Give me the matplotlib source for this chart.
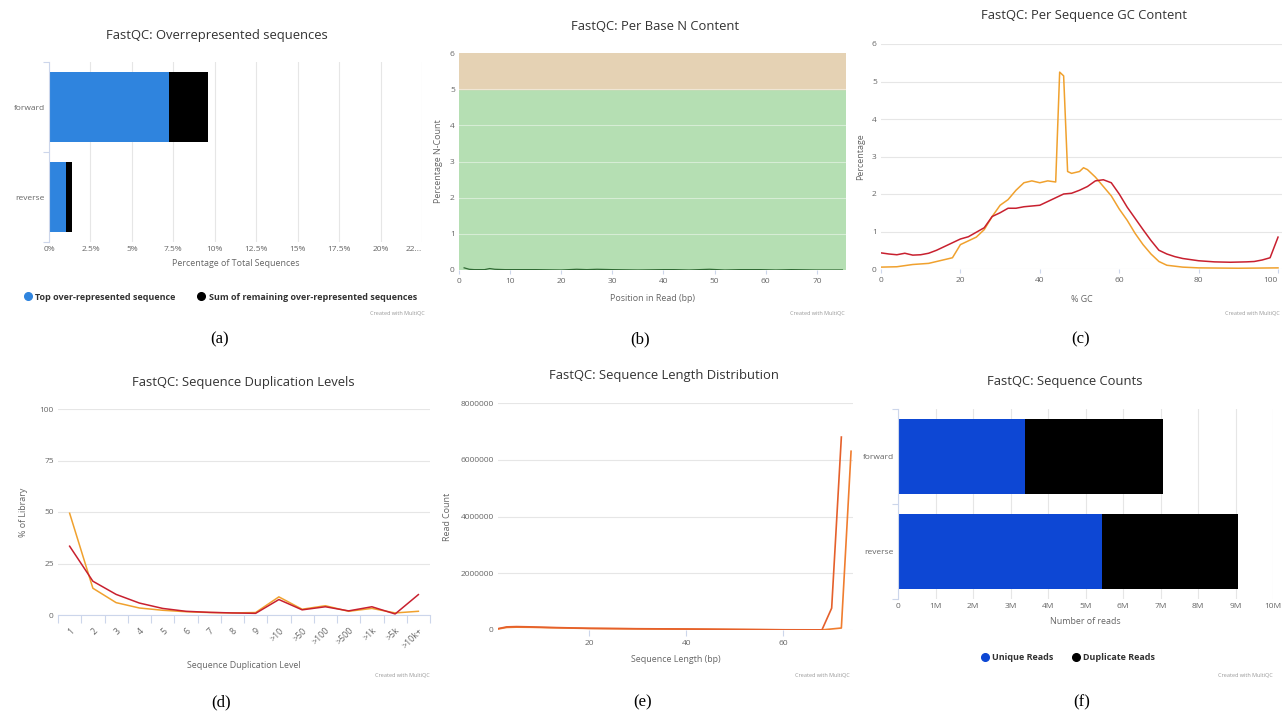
import numpy as np
import matplotlib
matplotlib.use('Agg')
import matplotlib.pyplot as plt
from matplotlib.lines import Line2D
from matplotlib.ticker import FixedLocator

plt.rcParams['font.family'] = ['Open Sans', 'DejaVu Sans']

W, H = 1282, 712

# (a) overrepresented sequences, % of total
over_samples = ['forward', 'reverse']
over_top = [7.23, 1.0]
over_rest = [2.35, 0.37]

# (b) per base N content
n_pos = [1, 2, 3, 5, 6, 7, 9, 12, 15, 20, 23, 25, 27, 30, 35, 40, 42, 45, 49, 52, 55, 59, 62, 65, 70, 75]
n_pct = [0.06, 0.02, 0.01, 0.01, 0.04, 0.02, 0.01, 0.01, 0.01, 0.0, 0.02, 0.01, 0.02, 0.01, 0.0, 0.01,
         0.01, 0.0, 0.02, 0.0, 0.01, 0.01, 0.0, 0.01, 0.0, 0.0]

# (c) per sequence GC content
gc_red_x = [0, 2, 4, 6, 8, 10, 12, 14, 16, 18, 20, 22, 24, 26, 28, 30, 32, 34, 36, 38, 40, 42, 44, 46,
            48, 50, 52, 54, 56, 58, 60, 62, 64, 66, 68, 70, 72, 74, 76, 78, 80, 84, 88, 92, 94, 96, 98, 100]
gc_red_y = [0.43, 0.4, 0.38, 0.42, 0.37, 0.38, 0.42, 0.5, 0.6, 0.7, 0.8, 0.86, 0.98, 1.1, 1.4, 1.5, 1.62,
            1.62, 1.66, 1.68, 1.7, 1.8, 1.9, 2.0, 2.02, 2.1, 2.2, 2.35, 2.38, 2.3, 2.0, 1.65, 1.35, 1.05,
            0.76, 0.5, 0.4, 0.33, 0.28, 0.25, 0.22, 0.19, 0.18, 0.19, 0.2, 0.24, 0.3, 0.85]
gc_orange_x = [0, 4, 8, 12, 16, 18, 20, 22, 24, 26, 28, 30, 32, 34, 36, 38, 40, 42, 44, 45, 46, 47, 48,
               50, 51, 52, 54, 56, 58, 60, 62, 64, 66, 68, 70, 72, 76, 80, 90, 100]
gc_orange_y = [0.05, 0.06, 0.12, 0.15, 0.25, 0.3, 0.65, 0.75, 0.85, 1.05, 1.4, 1.7, 1.85, 2.1, 2.3, 2.35,
               2.3, 2.35, 2.32, 5.25, 5.15, 2.6, 2.55, 2.6, 2.7, 2.65, 2.45, 2.2, 1.95, 1.6, 1.3, 0.95,
               0.65, 0.4, 0.2, 0.1, 0.05, 0.03, 0.02, 0.03]

# (d) sequence duplication levels
dup_levels = ['1', '2', '3', '4', '5', '6', '7', '8', '9', '>10', '>50', '>100', '>500', '>1k', '>5k', '>10k+']
dup_red = [33.4, 16.4, 10.0, 5.8, 3.2, 1.8, 1.3, 1.0, 0.8, 7.5, 2.5, 4.0, 2.0, 4.0, 0.5, 9.9]
dup_orange = [49.4, 13.0, 6.0, 3.4, 2.3, 1.6, 1.2, 1.0, 1.2, 8.8, 2.8, 4.5, 1.8, 3.2, 1.0, 1.8]

# (e) sequence length distribution
len_a_x = [1, 3, 5, 8, 12, 20, 30, 40, 50, 60, 68, 70, 72]
len_a_y = [40000, 110000, 120000, 110000, 90000, 60000, 45000, 35000, 20000, 8000, 5000, 770000, 6800000]
len_b_x = [1, 3, 5, 8, 12, 20, 30, 40, 50, 60, 68, 72, 74]
len_b_y = [30000, 90000, 100000, 95000, 80000, 55000, 40000, 30000, 18000, 6000, 3000, 70000, 6300000]

# (f) sequence counts
count_samples = ['forward', 'reverse']
unique_reads = [3.38e6, 5.45e6]
duplicate_reads = [3.69e6, 3.62e6]

TITLE = '#333333'
LABEL = '#666666'
GRID = '#e6e6e6'
AXIS = '#ccd6eb'
RED = '#c8202f'
ORANGE = '#f0a12e'
TICK = 6
ALAB = 6.4


def box(x0, y0, x1, y1):
    return [x0 / W, 1 - y1 / H, (x1 - x0) / W, (y1 - y0) / H]


def put(x, y, s, **kw):
    fig.text(x / W, 1 - y / H, s, **kw)


def base(ax):
    for sp in ax.spines.values():
        sp.set_visible(False)
    ax.tick_params(labelsize=TICK, labelcolor=LABEL, length=0, pad=3)
    ax.set_axisbelow(True)


def bracket(ax, n):
    # category brackets on the left side of the bar charts
    ax.spines['left'].set_visible(True)
    ax.spines['left'].set_color(AXIS)
    ax.spines['left'].set_linewidth(0.8)
    ax.yaxis.set_minor_locator(FixedLocator(np.arange(n + 1) - 0.5))
    ax.tick_params(axis='y', which='minor', length=4, color=AXIS, width=0.8)


fig = plt.figure(figsize=(W / 100, H / 100), dpi=100)

# ---- (a)
ax = fig.add_axes(box(49, 62, 422, 242))
base(ax)
yy = np.arange(len(over_samples))
ax.barh(yy, over_top, height=0.77, color='#2f84de')
ax.barh(yy, over_rest, left=over_top, height=0.77, color='black')
ax.set_ylim(1.5, -0.5)
ax.set_xlim(0, 22.5)
ax.set_yticks(yy, over_samples)
bracket(ax, 2)
xt = np.arange(0, 22.6, 2.5)
ax.set_xticks(xt, ['0%', '2.5%', '5%', '7.5%', '10%', '12.5%', '15%', '17.5%', '20%', '22...'])
ax.get_xticklabels()[-1].set_horizontalalignment('right')
ax.grid(axis='x', color=GRID, lw=0.8)
ax.set_xlabel('Percentage of Total Sequences', fontsize=ALAB, color=LABEL, labelpad=4)
h = [Line2D([], [], ls='', marker='o', ms=5.5, color='#2f84de'),
     Line2D([], [], ls='', marker='o', ms=5.5, color='black')]
fig.legend(h, ['Top over-represented sequence', 'Sum of remaining over-represented sequences'],
           loc='center', bbox_to_anchor=(220 / W, 1 - 297 / H), ncol=2, frameon=False,
           prop={'size': 6.5, 'weight': 'bold'}, labelcolor=TITLE, handletextpad=0.3,
           columnspacing=2.4, handlelength=1)

# ---- (b)
ax = fig.add_axes(box(459, 53, 846, 270))
base(ax)
ax.axhspan(0, 5, color='#b5dfb3', zorder=0)
ax.axhspan(5, 6, color='#e5d2b4', zorder=0)
for v in range(1, 6):
    ax.axhline(v, color='white', lw=0.8, alpha=0.45, zorder=1)
ax.plot(n_pos, n_pct, color='#2f6a33', lw=0.9, zorder=2)
ax.set_xlim(0, 75.7)
ax.set_ylim(0, 6)
ax.set_yticks(range(7))
ax.set_xticks(range(0, 71, 10))
ax.tick_params(axis='x', length=3, color=AXIS)
ax.set_xlabel('Position in Read (bp)', fontsize=ALAB, color=LABEL, labelpad=6)
ax.set_ylabel('Percentage N-Count', fontsize=ALAB, color=LABEL, labelpad=5)

# ---- (c)
ax = fig.add_axes(box(881, 44, 1282, 269))
base(ax)
ax.plot(gc_orange_x, gc_orange_y, color=ORANGE, lw=1.1)
ax.plot(gc_red_x, gc_red_y, color=RED, lw=1.1)
ax.set_xlim(0, 101)
ax.set_ylim(0, 6)
ax.set_yticks(range(7))
ax.set_xticks(range(0, 101, 20))
ax.get_xticklabels()[-1].set_horizontalalignment('right')
ax.grid(axis='y', color=GRID, lw=0.8)
ax.tick_params(axis='x', length=3, color=AXIS)
ax.set_xlabel('% GC', fontsize=ALAB, color=LABEL, labelpad=8)
ax.set_ylabel('Percentage', fontsize=ALAB, color=LABEL, labelpad=5)

# ---- (d)
ax = fig.add_axes(box(58, 409, 430, 615))
base(ax)
xd = np.arange(len(dup_levels))
ax.plot(xd, dup_orange, color=ORANGE, lw=1.1)
ax.plot(xd, dup_red, color=RED, lw=1.1)
ax.set_xlim(-0.5, len(dup_levels) - 0.5)
ax.set_ylim(0, 100)
ax.set_yticks([0, 25, 50, 75, 100])
ax.grid(axis='y', color=GRID, lw=0.8)
ax.spines['bottom'].set_visible(True)
ax.spines['bottom'].set_color(AXIS)
ax.spines['bottom'].set_linewidth(0.8)
ax.set_xticks(xd, dup_levels, rotation=45, ha='right', rotation_mode='anchor')
ax.xaxis.set_minor_locator(FixedLocator(np.arange(len(dup_levels) + 1) - 0.5))
ax.tick_params(axis='x', which='minor', length=6, color=AXIS, width=0.8)
ax.tick_params(axis='x', pad=8, labelsize=6.3)
ax.set_xlabel('Sequence Duplication Level', fontsize=ALAB, color=LABEL, labelpad=8)
ax.set_ylabel('% of Library', fontsize=ALAB, color=LABEL, labelpad=8)

# ---- (e)
ax = fig.add_axes(box(498, 403, 853, 630))
base(ax)
ax.plot(len_b_x, len_b_y, color='#f07d2f', lw=1.2)
ax.plot(len_a_x, len_a_y, color='#e5602b', lw=1.2)
ax.set_xlim(1.2, 74.4)
ax.set_ylim(0, 8e6)
yt = np.arange(0, 8e6 + 1, 2e6)
ax.set_yticks(yt, [str(int(v)) for v in yt])
ax.set_xticks([20, 40, 60])
ax.grid(axis='y', color=GRID, lw=0.8)
ax.tick_params(axis='x', length=4, color=AXIS)
ax.set_xlabel('Sequence Length (bp)', fontsize=ALAB, color=LABEL, labelpad=6)
ax.set_ylabel('Read Count', fontsize=ALAB, color=LABEL, labelpad=6)

# ---- (f)
ax = fig.add_axes(box(898, 409, 1273, 599))
base(ax)
yy = np.arange(len(count_samples))
ax.barh(yy, unique_reads, height=0.78, color='#0d47d4')
ax.barh(yy, duplicate_reads, left=unique_reads, height=0.78, color='black')
ax.set_ylim(1.5, -0.5)
ax.set_xlim(0, 10e6)
ax.set_yticks(yy, count_samples)
bracket(ax, 2)
xt = np.arange(0, 10e6 + 1, 1e6)
ax.set_xticks(xt, ['0'] + ['%dM' % (v / 1e6) for v in xt[1:]])
ax.grid(axis='x', color=GRID, lw=0.8)
ax.set_xlabel('Number of reads', fontsize=ALAB, color=LABEL, labelpad=5)
h = [Line2D([], [], ls='', marker='o', ms=5.5, color='#0d47d4'),
     Line2D([], [], ls='', marker='o', ms=5.5, color='black')]
fig.legend(h, ['Unique Reads', 'Duplicate Reads'],
           loc='center', bbox_to_anchor=(1068 / W, 1 - 658 / H), ncol=2, frameon=False,
           prop={'size': 6.5, 'weight': 'bold'}, labelcolor=TITLE, handletextpad=0.3,
           columnspacing=2.0, handlelength=1)

# titles, credits and sub-captions
titles = [(217, 36, 'FastQC: Overrepresented sequences'),
          (655, 26, 'FastQC: Per Base N Content'),
          (1084, 16, 'FastQC: Per Sequence GC Content'),
          (243, 383, 'FastQC: Sequence Duplication Levels'),
          (664, 376, 'FastQC: Sequence Length Distribution'),
          (1065, 382, 'FastQC: Sequence Counts')]
for x, y, s in titles:
    put(x, y, s, ha='center', va='center', fontsize=9.4, color=TITLE)

for x, y in [(425, 313), (845, 313), (1280, 313), (430, 675), (850, 675), (1273, 675)]:
    put(x, y, 'Created with MultiQC', ha='right', va='center', fontsize=4, color='#999999')

caps = [(220, 339, '(a)'), (640, 339, '(b)'), (1081, 339, '(c)'),
        (221, 702, '(d)'), (643, 702, '(e)'), (1082, 702, '(f)')]
for x, y, s in caps:
    put(x, y, s, ha='center', va='center', fontsize=12, family='Liberation Serif', color='black')

fig.savefig('out.png', dpi=100)
